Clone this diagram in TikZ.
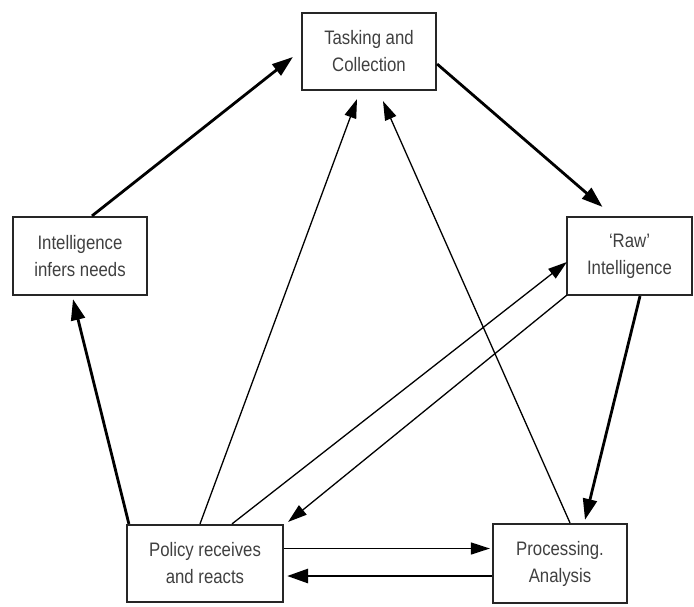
\documentclass[tikz,border=0pt]{standalone}
\usepackage{fontspec}
\setmainfont{Liberation Sans}
\newfontfamily\boxfont[FakeStretch=0.86]{Liberation Sans}
\usetikzlibrary{arrows.meta,calc}
\begin{document}
\begin{tikzpicture}[x=1pt,y=-1pt,
  box/.style={draw=black!85,line width=2.2pt,rectangle,inner sep=0pt,align=center,
    font=\boxfont\fontsize{19.5}{27}\selectfont,text=black!75},
  thick arrow/.style={line width=2.8pt,-{Triangle[length=21pt,width=14pt]}},
  thin arrow/.style={line width=1.3pt,-{Triangle[length=19pt,width=12pt]}}]
\useasboundingbox[fill=white] (0,0) rectangle (694,606);
\node[box,minimum width=134pt,minimum height=77pt] (T) at (369,51.5) {Tasking and\\Collection};
\node[box,minimum width=134pt,minimum height=78pt] (I) at (80,256) {Intelligence\\infers needs};
\node[box,minimum width=125pt,minimum height=78pt] (R) at (629.5,256) {‘Raw’\\Intelligence};
\node[box,minimum width=156pt,minimum height=77pt] (P) at (205,563.5) {Policy receives\\and reacts};
\node[box,minimum width=134pt,minimum height=79pt] (A) at (560,563.5) {Processing.\\Analysis};
% thick cycle
\draw[thick arrow] ($(I.north)+(12,0)$) -- ($(T.west)+(-8,5.5)$);
\draw[thick arrow] ($(T.east)+(0,12.5)$) -- ($(R.north)+(-27,-9)$);
\draw[thick arrow] ($(R.south)+(10.5,0)$) -- ($(A.north)+(25,-3)$);
\draw[thick arrow] ($(A.west)+(0,12.5)$) -- ($(P.east)+(3,12.5)$);
\draw[thick arrow] ($(P.north west)+(3,0)$) -- ($(I.south)+(-7,3)$);
% thin arrows
\draw[thin arrow] ($(P.east)+(0,-15)$) -- ($(A.west)+(-2,-15)$);
\draw[thin arrow] ($(P.north)+(-5,0)$) -- ($(T.south)+(-12,8)$);
\draw[thin arrow] ($(A.north)+(10,0)$) -- ($(T.south)+(14,10)$);
\draw[thin arrow] ($(P.north)+(27,0)$) -- ($(R.west)+(1,6)$);
\draw[thin arrow] ($(R.south west)+(1,-1)$) -- ($(P.north east)+(4,-2)$);
\end{tikzpicture}
\end{document}
